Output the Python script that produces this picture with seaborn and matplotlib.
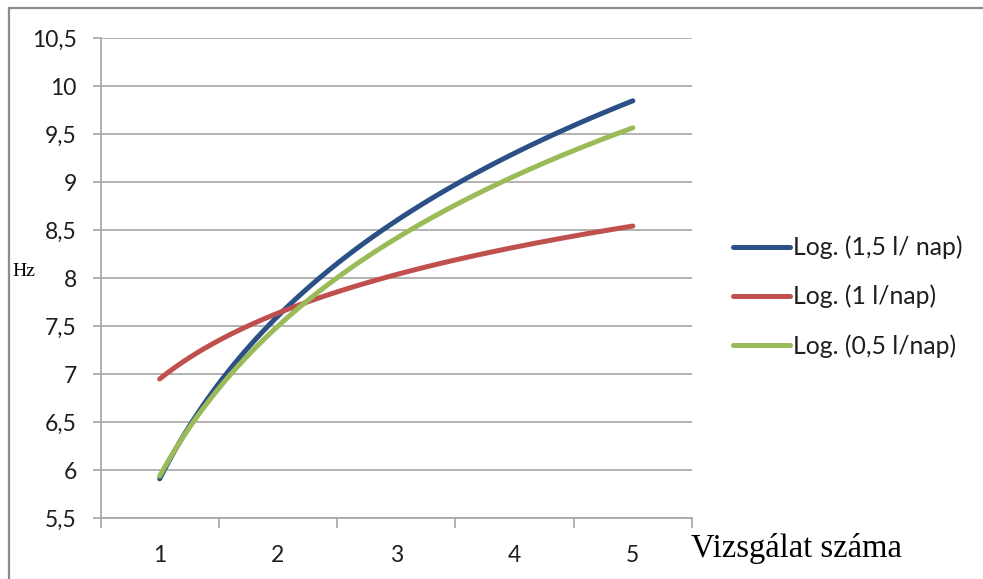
import matplotlib
matplotlib.use("Agg")
import matplotlib.pyplot as plt
import seaborn as sns
import pandas as pd
from matplotlib.lines import Line2D

# Measurement number (x) and the three daily-intake groups (Hz)
vizsgalat = [1, 2, 3, 4, 5]
hz_15_l = [5.91, 7.61, 8.60, 9.30, 9.85]
hz_1_l = [6.95, 7.64, 8.04, 8.32, 8.545]
hz_05_l = [5.94, 7.50, 8.42, 9.06, 9.57]

series_labels = ["Log. (1,5 l/ nap)", "Log. (1 l/nap)", "Log. (0,5 l/nap)"]
series_colors = ["#2A5085", "#C0504D", "#9BBB59"]

y_ticks = [5.5, 6, 6.5, 7, 7.5, 8, 8.5, 9, 9.5, 10, 10.5]
y_tick_labels = ["5,5", "6", "6,5", "7", "7,5", "8", "8,5", "9", "9,5", "10", "10,5"]
x_tick_labels = ["1", "2", "3", "4", "5"]

sns.set_style("white")
plt.rcParams["font.family"] = ["Lato", "DejaVu Sans"]

W, H = 983, 579
fig = plt.figure(figsize=(W / 100, H / 100), dpi=100)
left, right, top, bottom = 100.5, 692, 38.3, 518.3
ax = fig.add_axes([left / W, 1 - bottom / H, (right - left) / W, (bottom - top) / H])

df = pd.DataFrame({
    "x": vizsgalat * 3,
    "y": hz_15_l + hz_1_l + hz_05_l,
    "sorozat": sum([[lab] * len(vizsgalat) for lab in series_labels], []),
})

# Logarithmic trend lines, one per group
for lab, col in zip(series_labels, series_colors):
    sub = df[df["sorozat"] == lab]
    sns.regplot(data=sub, x="x", y="y", logx=True, ci=None, scatter=False,
                color=col, label=lab, ax=ax,
                line_kws={"lw": 3.6, "solid_capstyle": "round"})

ax.set_xlim(0.5, 5.5)
ax.set_ylim(5.5, 10.5)
ax.set_xlabel("")
ax.set_ylabel("")

grid_col = "#A6A6A6"
ax.set_yticks(y_ticks, y_tick_labels)
ax.yaxis.grid(True, color=grid_col, lw=1.2)
ax.xaxis.grid(False)
ax.set_axisbelow(True)
ax.set_xticks(vizsgalat, x_tick_labels)
ax.set_xticks([0.5, 1.5, 2.5, 3.5, 4.5, 5.5], minor=True)

ax.tick_params(axis="y", which="major", length=6, width=1.2, color=grid_col,
               direction="out", pad=11, labelsize=16.5, labelcolor="#1E1E1E", left=True)
ax.tick_params(axis="x", which="major", length=0, pad=19.5, labelsize=16.5,
               labelcolor="#1E1E1E", bottom=True)
ax.tick_params(axis="x", which="minor", length=7, width=1.2, color=grid_col,
               direction="out", bottom=True)

for side in ["top", "right"]:
    ax.spines[side].set_visible(False)
for side in ["left", "bottom"]:
    ax.spines[side].set_color(grid_col)
    ax.spines[side].set_linewidth(1.2)

leg = ax.legend(loc="center left", bbox_to_anchor=(733 / W, 1 - 296.7 / H),
                bbox_transform=fig.transFigure, frameon=False, fontsize=17.8,
                handlelength=2.3, handletextpad=0.12, labelspacing=1.04,
                borderpad=0, borderaxespad=0)
for txt in leg.get_texts():
    txt.set_color("#1E1E1E")
for ln in leg.get_lines():
    ln.set_linewidth(3.6)

# Outer chart frame (top and left edges)
frame_col = "#8C8C8C"
fx, fy = 8.5 / W, 1 - 8.3 / H
fig.add_artist(Line2D([fx, 1], [fy, fy], transform=fig.transFigure, color=frame_col, lw=1.6))
fig.add_artist(Line2D([fx, fx], [0, fy], transform=fig.transFigure, color=frame_col, lw=1.6))

fig.text(12 / W, 1 - 272 / H, "Hz", family="Liberation Serif", fontsize=14,
         ha="left", va="center", color="black")
fig.text(691 / W, 1 - 549 / H, "Vizsgálat száma", family="Liberation Serif",
         fontsize=23.5, ha="left", va="center", color="black")

fig.savefig("out.png", dpi=100)
